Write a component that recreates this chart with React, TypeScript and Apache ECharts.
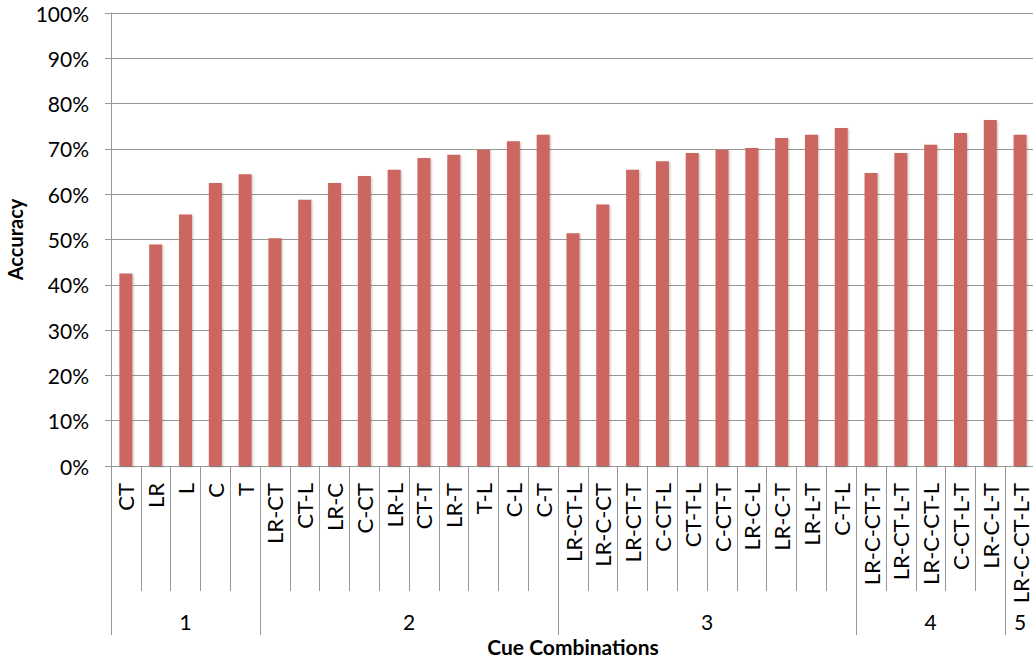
import React, { useEffect, useRef } from "react";
import * as echarts from "echarts";

const categories = [
  "CT", "LR", "L", "C", "T",
  "LR-CT", "CT-L", "LR-C", "C-CT", "LR-L", "CT-T", "LR-T", "T-L", "C-L", "C-T",
  "LR-CT-L", "LR-C-CT", "LR-CT-T", "C-CT-L", "CT-T-L", "C-CT-T", "LR-C-L", "LR-C-T", "LR-L-T", "C-T-L",
  "LR-C-CT-T", "LR-CT-L-T", "LR-C-CT-L", "C-CT-L-T", "LR-C-L-T",
  "LR-C-CT-L-T",
];
const accuracy = [
  42.5, 48.9, 55.5, 62.5, 64.4,
  50.3, 58.8, 62.5, 64.0, 65.4, 68.0, 68.7, 69.8, 71.7, 73.1,
  51.4, 57.7, 65.4, 67.3, 69.1, 69.8, 70.2, 72.4, 73.1, 74.6,
  64.7, 69.1, 70.9, 73.5, 76.4,
  73.1,
];
const groupNames = ["1", "2", "3", "4", "5"];
const groupSizes = [5, 10, 10, 5, 1];

const FONT = "Lato";
const GRAY = "#999999";

export default function App() {
  const ref = useRef<HTMLDivElement>(null);
  useEffect(() => {
    if (!ref.current) return;
    const chart = echarts.init(ref.current, null, { renderer: "svg" });
    const bounds: number[] = [0];
    groupSizes.forEach((s) => bounds.push(bounds[bounds.length - 1] + s));
    const centers = groupSizes.map((s, i) => bounds[i] + s / 2);
    const total = bounds[bounds.length - 1];
    chart.setOption({
      animation: false,
      textStyle: { fontFamily: FONT, color: "#000" },
      grid: {
        left: 111,
        top: 13,
        bottom: 202,
        right: -2,
        containLabel: false,
        outerBoundsMode: "none",
      },
      xAxis: [
        {
          type: "category",
          data: categories,
          position: "bottom",
          axisLine: { show: true, lineStyle: { color: GRAY, width: 1 } },
          axisTick: { show: true, interval: 0, length: 125, lineStyle: { color: GRAY } },
          axisLabel: {
            interval: 0,
            rotate: 90,
            margin: 17,
            fontSize: 22,
            lineHeight: 16,
            color: "#000",
            fontFamily: FONT,
          },
          name: "Cue Combinations",
          nameLocation: "middle",
          nameGap: 170,
          nameTextStyle: { fontSize: 21, fontWeight: "bold", color: "#000", fontFamily: FONT },
        },
        {
          type: "value",
          min: 0,
          max: total,
          position: "bottom",
          axisLine: { show: false },
          splitLine: { show: false },
          axisTick: {
            show: true,
            customValues: bounds,
            length: 169,
            lineStyle: { color: GRAY },
          },
          axisLabel: {
            customValues: centers,
            margin: 145,
            fontSize: 21,
            color: "#000",
            fontFamily: FONT,
            formatter: (v: number) => {
              const i = centers.findIndex((c) => Math.abs(c - v) < 1e-6);
              return i >= 0 ? groupNames[i] : "";
            },
          },
        },
      ],
      yAxis: {
        type: "value",
        min: 0,
        max: 100,
        interval: 10,
        axisLine: { show: true, lineStyle: { color: GRAY, width: 1 } },
        axisTick: { show: true, length: 6, lineStyle: { color: GRAY } },
        splitLine: { show: true, lineStyle: { color: GRAY, width: 1 } },
        axisLabel: {
          formatter: "{value}%",
          margin: 22,
          fontSize: 21,
          color: "#000",
          fontFamily: FONT,
        },
        name: "Accuracy",
        nameLocation: "middle",
        nameGap: 83,
        nameRotate: 90,
        nameTextStyle: { fontSize: 20, fontWeight: "bold", color: "#000", fontFamily: FONT },
      },
      series: [
        {
          type: "bar",
          xAxisIndex: 0,
          yAxisIndex: 0,
          data: accuracy,
          barWidth: 13,
          itemStyle: {
            color: "#cc6660",
            shadowColor: "rgba(0,0,0,0.25)",
            shadowBlur: 2,
            shadowOffsetX: 1,
            shadowOffsetY: 1,
          },
        },
      ],
    });
    return () => chart.dispose();
  }, []);
  return (
    <div
      ref={ref}
      style={{ position: "fixed", left: 0, top: 0, width: 1033, height: 668, background: "#fff" }}
    />
  );
}
